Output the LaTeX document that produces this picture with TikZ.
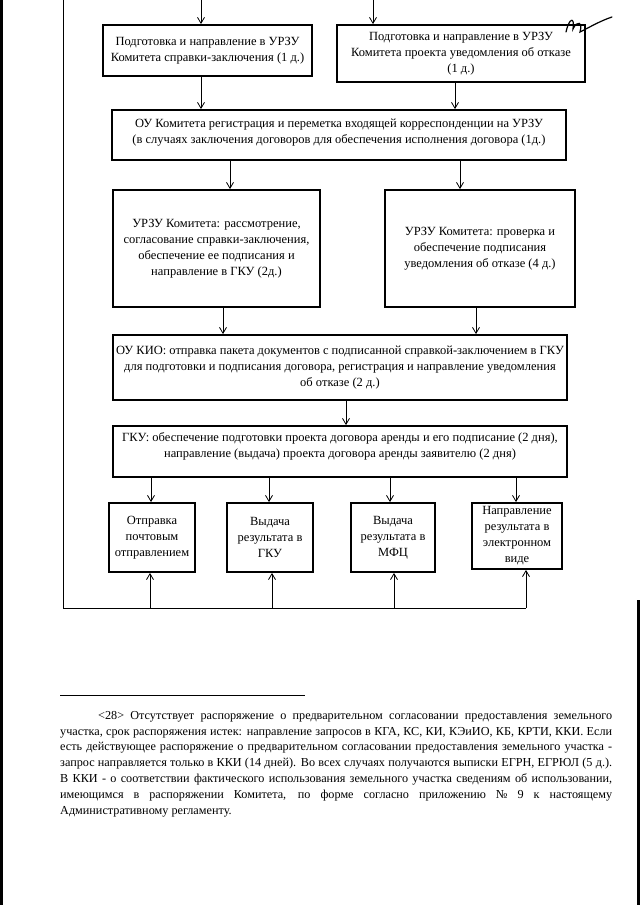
\documentclass[tikz,border=0pt]{standalone}
\usepackage{fontspec}
\setmainfont{Liberation Serif}
\usetikzlibrary{arrows.meta}

\newcommand{\fullline}[1]{\makebox[552pt][s]{#1}\\}

\begin{document}
\begin{tikzpicture}[x=1pt,y=-1pt]
		\tikzset{block/.style = {draw, line width=1.8pt, align=center, inner sep=2pt, font=\fontsize{12.5}{16}\selectfont},
			link/.style = {-{Straight Barb[length=6pt,width=7pt]}, line width=0.8pt}}

		\fill[white] (0,0) rectangle (640,905);
		\useasboundingbox (0,0) rectangle (640,905);
		\fill[black] (0,0) rectangle (3,905);
		\fill[black] (637,600) rectangle (640,905);

		\node[block, minimum width=209pt, minimum height=51pt] (P_1) at (207.5,50.5) {Подготовка и направление в УРЗУ\\Комитета справки-заключения (1 д.)};
		\node[block, minimum width=248pt, minimum height=57pt] (P_2) at (461,53.5) {Подготовка и направление в УРЗУ\\Комитета проекта уведомления об отказе\\(1 д.)};

		\node[block, minimum width=454pt, minimum height=50pt, text depth=8pt] (Q) at (339,135) {ОУ Комитета регистрация и переметка входящей корреспонденции на УРЗУ\\(в случаях заключения договоров для обеспечения исполнения договора (1д.)};

		\node[block, minimum width=207pt, minimum height=117pt] (R_1) at (216.5,248.5) {УРЗУ Комитета: рассмотрение,\\согласование справки-заключения,\\обеспечение ее подписания и\\направление в ГКУ (2д.)};
		\node[block, minimum width=190pt, minimum height=117pt] (R_2) at (480,248.5) {УРЗУ Комитета: проверка и\\обеспечение подписания\\уведомления об отказе (4 д.)};

		\node[block, minimum width=454pt, minimum height=65pt] (S) at (340,367.5) {ОУ КИО: отправка пакета документов с подписанной справкой-заключением в ГКУ\\для подготовки и подписания договора, регистрация и направление уведомления\\об отказе (2 д.)};

		\node[block, minimum width=454pt, minimum height=51pt, text depth=12pt] (G) at (340,451.5) {ГКУ: обеспечение подготовки проекта договора аренды и его подписание (2 дня),\\направление (выдача) проекта договора аренды заявителю (2 дня)};

		\node[block, minimum width=86pt, minimum height=69pt] (B_1) at (152,537.5) {Отправка\\почтовым\\отправлением};
		\node[block, minimum width=86pt, minimum height=69pt] (B_2) at (270,537.5) {Выдача\\результата в\\ГКУ};
		\node[block, minimum width=84pt, minimum height=69pt] (B_3) at (393,537.5) {Выдача\\результата в\\МФЦ};
		\node[block, minimum width=90pt, minimum height=66pt] (B_4) at (517,536) {Направление\\результата в\\электронном\\виде};

		\coordinate (t_1) at (201,0);
		\coordinate (t_2) at (373,0);
		\coordinate (c_0) at (63,0);
		\coordinate (c_1) at (63,608);

		\draw[link] (t_1) -- (t_1 |- P_1.north);
		\draw[link] (t_2) -- (t_2 |- P_2.north);

		\draw[link] (P_1.south -| 201,0) -- (Q.north -| 201,0);
		\draw[link] (P_2.south -| 455,0) -- (Q.north -| 455,0);

		\draw[link] (Q.south -| 230,0) -- (R_1.north -| 230,0);
		\draw[link] (Q.south -| 460,0) -- (R_2.north -| 460,0);

		\draw[link] (R_1.south -| 223,0) -- (S.north -| 223,0);
		\draw[link] (R_2.south -| 476,0) -- (S.north -| 476,0);

		\draw[link] (S.south -| 346,0) -- (G.north -| 346,0);

		\draw[link] (G.south -| 151,0) -- (B_1.north -| 151,0);
		\draw[link] (G.south -| 269,0) -- (B_2.north -| 269,0);
		\draw[link] (G.south -| 390,0) -- (B_3.north -| 390,0);
		\draw[link] (G.south -| 516,0) -- (B_4.north -| 516,0);

		\draw[line width=0.8pt] (c_0) -- (c_1) -- (c_1 -| 526,0);
		\draw[link] (c_1 -| 150,0) -- (B_1.south -| 150,0);
		\draw[link] (c_1 -| 272,0) -- (B_2.south -| 272,0);
		\draw[link] (c_1 -| 394,0) -- (B_3.south -| 394,0);
		\draw[link] (c_1 -| 526,0) -- (B_4.south -| 526,0);

		\draw[line width=1.2pt, line cap=round] (566,32) .. controls (569,18) and (575,16) .. (573,29) .. controls (577,20) and (583,22) .. (580,32) .. controls (590,27) and (600,21) .. (612,17);

		\draw[line width=0.8pt] (60,695) -- (305,695);
		\node[anchor=north west, align=left, inner sep=0pt, font=\fontsize{12.2}{15.8}\selectfont] (note) at (60,711) {\fullline{\hspace*{38pt}<28> Отсутствует распоряжение о предварительном согласовании предоставления земельного}\fullline{участка, срок распоряжения истек: направление запросов в КГА, КС, КИ, КЭиИО, КБ, КРТИ, ККИ. Если}\fullline{есть действующее распоряжение о предварительном согласовании предоставления земельного участка -}\fullline{запрос направляется только в ККИ (14 дней). Во всех случаях получаются выписки ЕГРН, ЕГРЮЛ (5 д.).}\fullline{В ККИ - о соответствии фактического использования земельного участка сведениям об использовании,}\fullline{имеющимся в распоряжении Комитета, по форме согласно приложению № 9 к настоящему}Административному регламенту.};

	\end{tikzpicture}
\end{document}
